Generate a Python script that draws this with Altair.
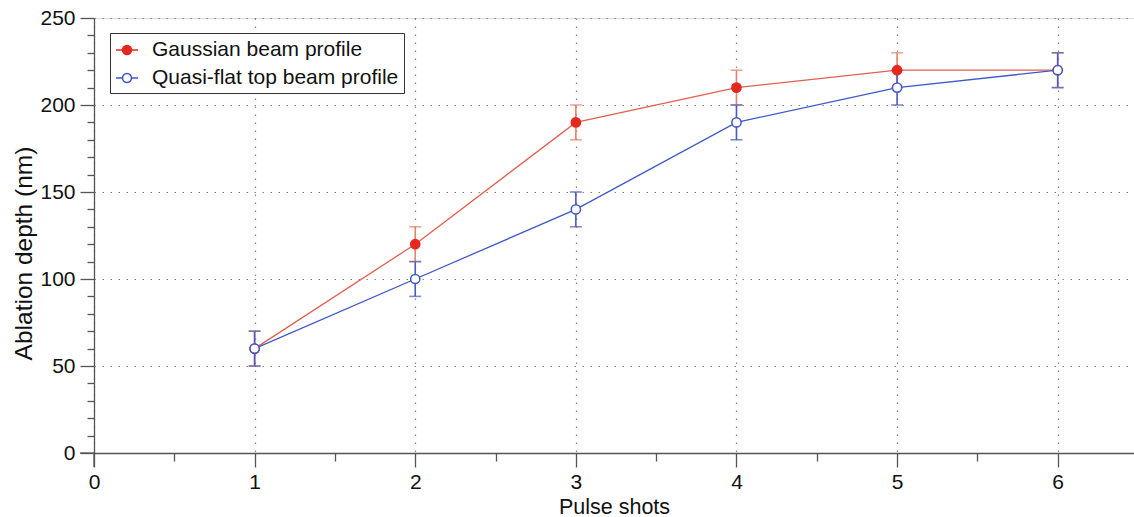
import altair as alt
import pandas as pd

# ---- data ----
pulses = [1, 2, 3, 4, 5, 6]
gauss_depth = [60, 120, 190, 210, 220, 220]
gauss_err = [10, 10, 10, 10, 10, 10]
flat_depth = [60, 100, 140, 190, 210, 220]
flat_err = [10, 10, 10, 10, 10, 10]
series_names = ["Gaussian beam profile", "Quasi-flat top beam profile"]

RED_MARK = "#e5281f"
RED_LINE = "#e2604f"
RED_ERR = "#e5826a"
BLUE = "#3f58c9"
BLUE_ERR = "#4a5bbf"
AXC = "#555555"
FONT = "Liberation Sans"

rows = []
for p, d, e in zip(pulses, gauss_depth, gauss_err):
    rows.append(dict(pulse=p, depth=d, lo=d - e, hi=d + e, series=series_names[0],
                     lcol=RED_LINE, ecol=RED_ERR))
for p, d, e in zip(pulses, flat_depth, flat_err):
    rows.append(dict(pulse=p, depth=d, lo=d - e, hi=d + e, series=series_names[1],
                     lcol=BLUE, ecol=BLUE_ERR))
df = pd.DataFrame(rows)

x_ticks = [i * 0.5 for i in range(13)]
y_ticks = list(range(0, 251, 10))

xaxis = alt.Axis(
    values=x_ticks,
    labelExpr="datum.value % 1 === 0 ? format(datum.value, 'd') : ''",
    tickSize={"condition": {"test": "datum.value % 1 === 0", "value": 14}, "value": 8},
    gridOpacity={"condition": {"test": "datum.value % 1 === 0", "value": 1}, "value": 0},
    grid=True, gridDash=[1.5, 6.5], gridColor="#888888", gridWidth=1.2,
    domainColor=AXC, tickColor=AXC, tickWidth=1.3, domainWidth=1.3,
    labelFont=FONT, labelFontSize=21, labelColor="#111111", labelPadding=4,
    titleFont=FONT, titleFontSize=21.5, titleFontWeight="normal", titleColor="#111111",
    titlePadding=4, labelFlush=False, labelOverlap=False,
)
yaxis = alt.Axis(
    values=y_ticks,
    labelExpr="datum.value % 50 === 0 ? datum.label : ''",
    tickSize={"condition": {"test": "datum.value % 50 === 0", "value": 14}, "value": 7},
    gridOpacity={"condition": {"test": "datum.value % 50 === 0", "value": 1}, "value": 0},
    grid=True, gridDash=[1.5, 6.5], gridColor="#888888", gridWidth=1.2,
    domainColor=AXC, tickColor=AXC, tickWidth=1.3, domainWidth=1.3,
    labelFont=FONT, labelFontSize=21, labelColor="#111111", labelPadding=5,
    titleFont=FONT, titleFontSize=24.5, titleFontWeight="normal", titleColor="#111111",
    titleX=-63, titleY=235, titleAngle=270, titleAlign="center", titleBaseline="alphabetic",
    labelFlush=False, labelOverlap=False,
)

xs = alt.Scale(domain=[0, 6.475], nice=False, zero=False)
ys = alt.Scale(domain=[0, 250], nice=False)

def X():
    return alt.X("pulse:Q", scale=xs, axis=xaxis, title="Pulse shots")

def Y(field):
    return alt.Y(f"{field}:Q", scale=ys, axis=yaxis, title="Ablation depth (nm)")

base = alt.Chart(df)

err_rule = base.mark_rule(strokeWidth=1.6).encode(
    x=X(), y=Y("lo"), y2="hi:Q", color=alt.Color("ecol:N", scale=None))
cap_lo = base.mark_tick(orient="horizontal", size=12, thickness=1.6).encode(
    x=X(), y=Y("lo"), color=alt.Color("ecol:N", scale=None))
cap_hi = base.mark_tick(orient="horizontal", size=12, thickness=1.6).encode(
    x=X(), y=Y("hi"), color=alt.Color("ecol:N", scale=None))

lines = base.mark_line(strokeWidth=1.3).encode(
    x=X(), y=Y("depth"), color=alt.Color("lcol:N", scale=None), detail="series:N")

sym_path = ("M-1,0L-0.41,0M0.41,0L1,0"
            "M-0.41,0A0.41,0.41,0,1,1,0.41,0A0.41,0.41,0,1,1,-0.41,0Z")
leg = alt.Legend(
    orient="none", legendX=16, legendY=15, title=None,
    labelFont=FONT, labelFontSize=21, labelColor="#111111", labelOffset=13,
    labelExpr="datum.label + '\u00a0\u00a0'",
    symbolType=sym_path, symbolSize=484, symbolStrokeWidth=1.5,
    padding=5, rowPadding=6, strokeColor="#333333", fillColor="white",
    labelLimit=400,
)
points = base.mark_point(filled=True, size=85, strokeWidth=1.5, opacity=1, shape="circle").encode(
    x=X(), y=Y("depth"),
    stroke=alt.Stroke("series:N", scale=alt.Scale(domain=series_names, range=[RED_MARK, BLUE]), legend=leg),
    fill=alt.Fill("series:N", scale=alt.Scale(domain=series_names, range=[RED_MARK, "white"]), legend=leg),
    order=alt.Order("order_idx:Q"),
).transform_calculate(order_idx="datum.series === 'Gaussian beam profile' ? 0 : 1")

one = alt.Chart(pd.DataFrame({"a": [0]}))
ext_x = one.mark_rule(color=AXC, strokeWidth=1.3).encode(
    x=alt.value(-14), x2=alt.value(0), y=alt.value(435))
ext_y = one.mark_rule(color=AXC, strokeWidth=1.3).encode(
    x=alt.value(0), y=alt.value(435), y2=alt.value(449))

chart = alt.layer(err_rule, cap_lo, cap_hi, lines, points, ext_x, ext_y).properties(
    width=1040, height=435,
    autosize=alt.AutoSizeParams(type="none"),
    padding={"left": 94, "top": 18, "right": 0, "bottom": 64},
).configure_view(stroke="#444444", strokeWidth=2).configure(background="white")

chart.save("out.html", embed_options={"renderer": "svg", "actions": False})
